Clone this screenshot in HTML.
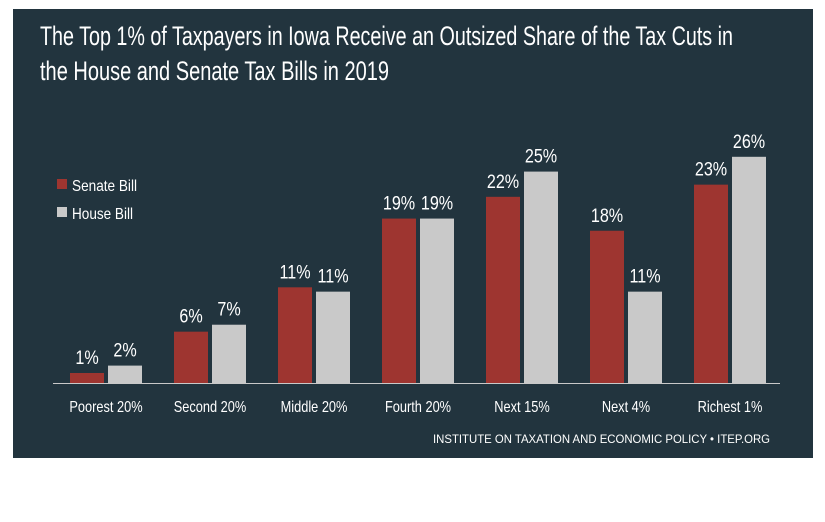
<!DOCTYPE html>
<html><head><meta charset="utf-8"><style>
html,body{margin:0;padding:0;background:#fff;width:825px;height:522px;overflow:hidden}
svg{display:block}
text{font-family:"Liberation Sans Narrow","Liberation Sans",sans-serif;fill:#fff}
</style></head><body>
<svg id="chart" width="825" height="522">
<rect x="13" y="9" width="800" height="449" fill="#22343e"/>
<text x="40" y="45" font-size="27" textLength="693" lengthAdjust="spacingAndGlyphs">The Top 1% of Taxpayers in Iowa Receive an Outsized Share of the Tax Cuts in</text>
<text x="40" y="80" font-size="27" textLength="349" lengthAdjust="spacingAndGlyphs">the House and Senate Tax Bills in 2019</text>
<g>
<rect x="57" y="179" width="10" height="10" fill="#9e3530"/>
<text x="72" y="191" font-size="16" textLength="65" lengthAdjust="spacingAndGlyphs">Senate Bill</text>
<rect x="57" y="207" width="10" height="10" fill="#c9c9c9"/>
<text x="72" y="219" font-size="16" textLength="61" lengthAdjust="spacingAndGlyphs">House Bill</text>
</g>
<g id="bars"></g>
<line x1="53" y1="383.5" x2="780" y2="383.5" stroke="#c9c9c9" stroke-width="1"/>
<text x="433" y="443" font-size="12" textLength="337" lengthAdjust="spacingAndGlyphs" font-family="Liberation Sans">INSTITUTE ON TAXATION AND ECONOMIC POLICY • ITEP.ORG</text>
</svg>
<script>
const categories = ["Poorest 20%","Second 20%","Middle 20%","Fourth 20%","Next 15%","Next 4%","Richest 1%"];
const senateValues = [1.15,5.9,11.0,18.9,21.4,17.5,22.8];
const houseValues = [2.0,6.7,10.5,18.9,24.3,10.5,26.0];
const senateLabels = ["1%","6%","11%","19%","22%","18%","23%"];
const houseLabels = ["2%","7%","11%","19%","25%","11%","26%"];
const NS="http://www.w3.org/2000/svg";
const g=document.getElementById('bars');
const baseY=383, pxPer=8.7, x0=70, step=104, bw=34, off=38;
function yScale(v){return baseY - v*pxPer;}
function xGroup(i){return x0 + step*i;}
function mk(tag,attrs){const e=document.createElementNS(NS,tag);for(const k in attrs)e.setAttribute(k,attrs[k]);return e;}
function narrowText(cx,y,size,sx,str){
  const t=mk('text',{x:0,y:0,'font-size':size,'text-anchor':'middle',transform:'translate('+cx+','+y+') scale('+sx+',1)'});
  t.textContent=str;return t;
}
categories.forEach((c,i)=>{
  [[senateValues[i],senateLabels[i],0,'#9e3530','senate'],[houseValues[i],houseLabels[i],off,'#c9c9c9','house']].forEach(([v,lab,o,col,s])=>{
    const x=xGroup(i)+o, y=yScale(v);
    const r=mk('rect',{x:x,y:y,width:bw,height:baseY-y,fill:col});
    
    
    g.appendChild(r);
    const t=narrowText(x+bw/2,y-9,19,0.85,lab);
    
    
    g.appendChild(t);
  });
  const l=narrowText(xGroup(i)+(bw+off)/2,412,16,0.8,c);
  
  
  g.appendChild(l);
});
</script>
</body></html>
